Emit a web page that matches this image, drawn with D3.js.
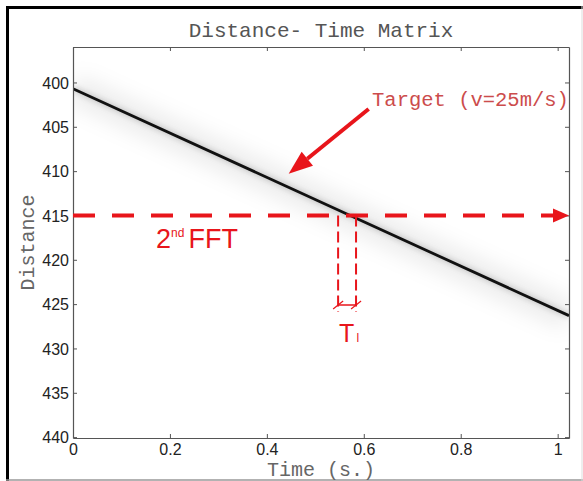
<!DOCTYPE html>
<html>
<head>
<meta charset="utf-8">
<script src="https://cdn.jsdelivr.net/npm/d3@7"></script>
<style>
  body { margin: 0; background: #fff; }
  svg { display: block; }
</style>
</head>
<body>
<div id="app"></div>
<script>
// data
const xTicks = [0, 0.2, 0.4, 0.6, 0.8, 1];
const yTicks = [400, 405, 410, 415, 420, 425, 430, 435, 440];
const timeDomain = [0, 1.0234];
const distDomain = [396, 440.1];
const targetTime = [0, 1.0234];       // target trace end points (s)
const targetDist = [400.7, 426.3];    // distance at those times
const fftDist = 415;                  // 2nd FFT row
const windowTime = [0.547, 0.584];    // T_l window
const arrowTail = [0.61, 403.0];      // [time, distance]
const arrowTip = [0.445, 410.3];
const labelPos = [0.617, 402.6];

const W = 583;
const H = 481;
const plot = { left: 73, top: 47, right: 569, bottom: 438 };
const red = '#e8151b';
const monoFont = '"Liberation Mono", "DejaVu Sans Mono", monospace';
const sansFont = '"Liberation Sans", Arial, sans-serif';

const svg = d3.select('#app')
  .append('svg')
  .attr('width', W)
  .attr('height', H);

// figure frame
svg.append('rect')
  .attr('x', 0).attr('y', 0)
  .attr('width', W).attr('height', H)
  .attr('fill', '#fff');
svg.append('line')
  .attr('x1', 7.5).attr('x2', 7.5).attr('y1', 6).attr('y2', H)
  .attr('stroke', '#000').attr('stroke-width', 3);
svg.append('line')
  .attr('x1', 6).attr('x2', W).attr('y1', 7.5).attr('y2', 7.5)
  .attr('stroke', '#000').attr('stroke-width', 3);
svg.append('line')
  .attr('x1', 6).attr('x2', W).attr('y1', H - 1).attr('y2', H - 1)
  .attr('stroke', '#999').attr('stroke-width', 1.5);
svg.append('line')
  .attr('x1', W - 1).attr('x2', W - 1).attr('y1', 6).attr('y2', H)
  .attr('stroke', '#ddd').attr('stroke-width', 1);

const x = d3.scaleLinear().domain(timeDomain).range([plot.left, plot.right]);
const y = d3.scaleLinear().domain(distDomain).range([plot.top, plot.bottom]);

const defs = svg.append('defs');
defs.append('clipPath').attr('id', 'clip')
  .append('rect')
  .attr('x', plot.left).attr('y', plot.top)
  .attr('width', plot.right - plot.left)
  .attr('height', plot.bottom - plot.top);
defs.append('filter').attr('id', 'blur')
  .attr('x', '-30%').attr('y', '-30%').attr('width', '160%').attr('height', '160%')
  .append('feGaussianBlur').attr('stdDeviation', 10);
defs.append('filter').attr('id', 'blur2')
  .append('feGaussianBlur').attr('stdDeviation', 2.5);

const traceData = targetTime.map((t, i) => ({ t, d: targetDist[i] }));
const traceLine = d3.line().x(p => x(p.t)).y(p => y(p.d));

const traceG = svg.append('g').attr('clip-path', 'url(#clip)');
// soft spread around the trace
traceG.append('path')
  .datum(traceData)
  .attr('d', traceLine)
  .attr('fill', 'none')
  .attr('stroke', '#000')
  .attr('stroke-opacity', 0.07)
  .attr('stroke-width', 30)
  .attr('filter', 'url(#blur)');
traceG.append('path')
  .datum(traceData)
  .attr('d', traceLine)
  .attr('fill', 'none')
  .attr('stroke', '#000')
  .attr('stroke-opacity', 0.15)
  .attr('stroke-width', 6)
  .attr('filter', 'url(#blur2)');
traceG.append('path')
  .datum(traceData)
  .attr('d', traceLine)
  .attr('fill', 'none')
  .attr('stroke', '#111')
  .attr('stroke-width', 2.8);

// axes, MATLAB style box with inward ticks
const axisColor = '#555';
const tickLen = 4;
const xAxis = svg.append('g')
  .attr('transform', `translate(0,${plot.bottom})`)
  .call(d3.axisBottom(x).tickValues(xTicks).tickSizeInner(-tickLen).tickSizeOuter(0)
    .tickFormat(d3.format('')));
const yAxis = svg.append('g')
  .attr('transform', `translate(${plot.left},0)`)
  .call(d3.axisLeft(y).tickValues(yTicks).tickSizeInner(-tickLen).tickSizeOuter(0));
const xTop = svg.append('g')
  .attr('transform', `translate(0,${plot.top})`)
  .call(d3.axisTop(x).tickValues(xTicks).tickSizeInner(-tickLen).tickSizeOuter(0)
    .tickFormat(''));
const yRight = svg.append('g')
  .attr('transform', `translate(${plot.right},0)`)
  .call(d3.axisRight(y).tickValues(yTicks).tickSizeInner(-tickLen).tickSizeOuter(0)
    .tickFormat(''));

[xAxis, yAxis, xTop, yRight].forEach((g) => {
  g.select('.domain').attr('stroke', axisColor).attr('stroke-width', 1.2);
  g.selectAll('.tick line').attr('stroke', axisColor);
  g.selectAll('.tick text')
    .attr('fill', '#222')
    .attr('font-family', sansFont)
    .attr('font-size', 16);
});
xAxis.selectAll('.tick text').attr('dy', null).attr('y', 17);
yAxis.selectAll('.tick text').attr('x', -4).attr('dy', '0.36em');

// titles
svg.append('text')
  .attr('x', (plot.left + plot.right) / 2)
  .attr('y', 37)
  .attr('text-anchor', 'middle')
  .attr('font-family', monoFont)
  .attr('font-size', 21)
  .attr('fill', '#555')
  .text('Distance- Time Matrix');
svg.append('text')
  .attr('x', (plot.left + plot.right) / 2)
  .attr('y', 476)
  .attr('text-anchor', 'middle')
  .attr('font-family', monoFont)
  .attr('font-size', 20)
  .attr('fill', '#666')
  .text('Time (s.)');
svg.append('text')
  .attr('transform', `translate(34,${(plot.top + plot.bottom) / 2}) rotate(-90)`)
  .attr('text-anchor', 'middle')
  .attr('font-family', monoFont)
  .attr('font-size', 20)
  .attr('fill', '#666')
  .text('Distance');

// red annotations
const ann = svg.append('g');
const fy = y(fftDist);
const headLen = 16;
ann.append('line')
  .attr('x1', plot.left).attr('x2', plot.right - headLen)
  .attr('y1', fy).attr('y2', fy)
  .attr('stroke', red)
  .attr('stroke-width', 4)
  .attr('stroke-dasharray', '22 17');
ann.append('path')
  .attr('d', `M${plot.right},${fy} L${plot.right - headLen},${fy - 7} L${plot.right - headLen},${fy + 7} Z`)
  .attr('fill', red);

// window lines
const winBottom = 312;
windowTime.forEach((t) => {
  ann.append('line')
    .attr('x1', x(t)).attr('x2', x(t))
    .attr('y1', fy).attr('y2', winBottom)
    .attr('stroke', red)
    .attr('stroke-width', 2)
    .attr('stroke-dasharray', '11 5');
});
const barY = 305;
ann.append('line')
  .attr('x1', x(windowTime[0])).attr('x2', x(windowTime[1]))
  .attr('y1', barY).attr('y2', barY)
  .attr('stroke', red).attr('stroke-width', 1.5);
windowTime.forEach((t) => {
  ann.append('line')
    .attr('x1', x(t) - 5).attr('x2', x(t) + 5)
    .attr('y1', barY + 4).attr('y2', barY - 4)
    .attr('stroke', red).attr('stroke-width', 1.2);
});
const tl = ann.append('text')
  .attr('x', x(windowTime[0]) + 1)
  .attr('y', 342)
  .attr('font-family', sansFont)
  .attr('fill', red);
tl.append('tspan').attr('font-size', 25).text('T');
tl.append('tspan').attr('font-size', 12).attr('dx', 2).text('l');

// 2nd FFT label
const fft = ann.append('text')
  .attr('x', 156)
  .attr('y', 248)
  .attr('font-family', sansFont)
  .attr('fill', red);
fft.append('tspan').attr('font-size', 27).text('2');
fft.append('tspan').attr('font-size', 12).attr('dy', -11).text('nd');
fft.append('tspan').attr('font-size', 27).attr('dy', 11).attr('dx', 4).text('FFT');

// target arrow
const tail = [x(arrowTail[0]), y(arrowTail[1])];
const tip = [x(arrowTip[0]), y(arrowTip[1])];
const ang = Math.atan2(tip[1] - tail[1], tip[0] - tail[0]);
const aLen = 24;
const aW = 9;
const base = [tip[0] - aLen * Math.cos(ang), tip[1] - aLen * Math.sin(ang)];
ann.append('line')
  .attr('x1', tail[0]).attr('y1', tail[1])
  .attr('x2', base[0]).attr('y2', base[1])
  .attr('stroke', red).attr('stroke-width', 4);
ann.append('path')
  .attr('d', `M${tip[0]},${tip[1]}`
    + `L${base[0] + aW * Math.sin(ang)},${base[1] - aW * Math.cos(ang)}`
    + `L${base[0] - aW * Math.sin(ang)},${base[1] + aW * Math.cos(ang)}Z`)
  .attr('fill', red);
ann.append('text')
  .attr('x', x(labelPos[0]))
  .attr('y', y(labelPos[1]))
  .attr('font-family', monoFont)
  .attr('font-size', 20.5)
  .attr('fill', '#cc4c4c')
  .text('Target (v=25m/s)');
</script>
</body>
</html>
